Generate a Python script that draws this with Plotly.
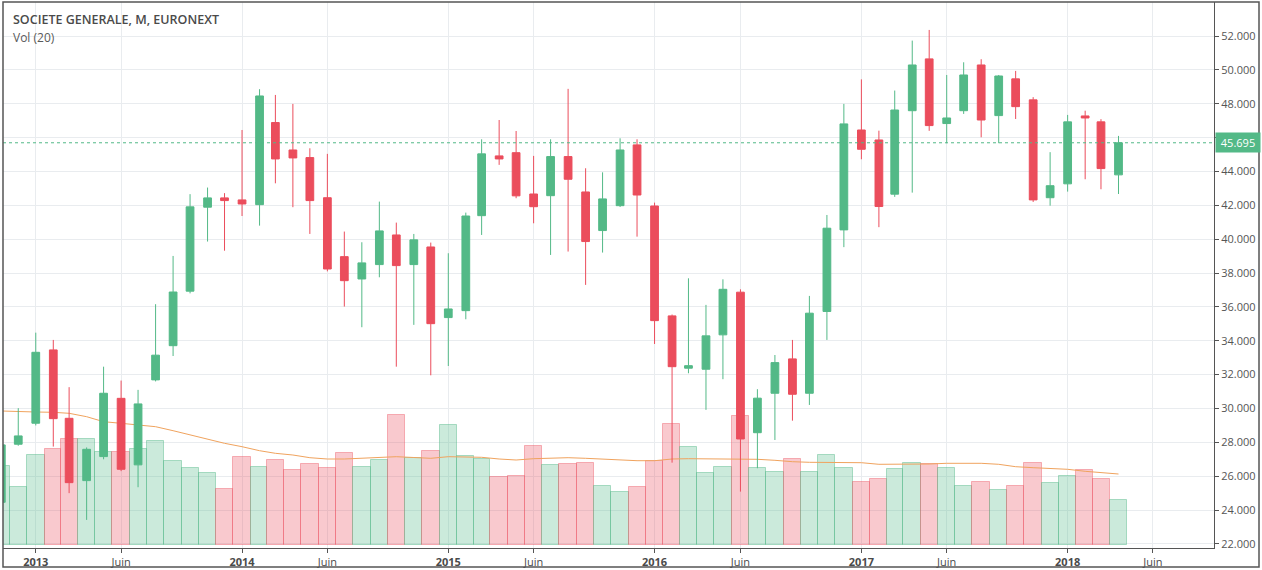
import pandas as pd
import plotly.graph_objects as go

# ---------------- data ----------------
months = pd.date_range("2012-11-01", periods=66, freq="MS")

opens = [24.46, 27.89, 29.13, 33.46, 29.42, 25.74, 27.16, 30.60, 26.67, 31.69, 33.71, 36.93,
         41.89, 42.44, 42.32, 42.04, 46.89, 45.27, 44.82, 42.45, 38.97, 37.65, 38.50, 40.25,
         38.50, 39.54, 35.37, 35.78, 41.39, 44.92, 45.11, 42.67, 42.57, 44.88, 42.79, 40.51,
         41.98, 45.57, 41.96, 35.47, 32.38, 32.32, 34.35, 36.87, 28.57, 30.90, 32.93, 30.90,
         35.73, 40.55, 46.45, 45.86, 42.66, 47.59, 50.65, 46.83, 47.59, 50.29, 47.30, 49.47,
         48.23, 42.45, 43.27, 47.28, 46.93, 43.80]
highs = [28.20, 30.02, 34.48, 34.05, 31.26, 27.70, 32.47, 31.65, 31.10, 36.16, 39.01, 42.66,
         43.05, 42.72, 46.45, 48.86, 48.52, 47.99, 45.37, 45.04, 40.45, 39.82, 42.22, 40.98,
         40.31, 39.80, 39.17, 41.57, 45.90, 47.04, 46.39, 44.92, 45.90, 48.88, 44.19, 43.95,
         45.96, 45.90, 42.16, 35.55, 37.69, 36.12, 37.63, 37.04, 31.14, 33.16, 34.05, 36.65,
         41.43, 47.99, 49.44, 46.41, 48.78, 51.73, 52.36, 49.70, 50.45, 50.63, 49.70, 49.94,
         48.39, 45.14, 47.34, 47.59, 47.09, 46.10]
lows = [24.20, 27.80, 29.00, 27.75, 25.00, 23.42, 27.00, 26.30, 25.35, 31.60, 33.10, 36.80,
        39.86, 39.32, 41.37, 40.80, 43.30, 41.89, 40.31, 38.10, 36.02, 34.80, 37.75, 32.47,
        34.94, 31.96, 32.51, 35.27, 40.25, 44.39, 42.42, 40.94, 39.07, 39.27, 37.30, 39.21,
        41.90, 40.15, 33.81, 26.80, 32.08, 29.92, 31.73, 25.09, 26.47, 28.14, 29.28, 30.21,
        34.05, 39.53, 44.72, 40.71, 42.50, 42.75, 46.40, 45.67, 47.40, 46.02, 45.67, 47.10,
        42.20, 41.98, 42.81, 43.54, 42.95, 42.67]
closes = [27.85, 28.38, 33.32, 29.40, 25.62, 27.59, 30.90, 26.41, 30.27, 33.15, 36.88, 41.91,
          42.44, 42.28, 42.08, 48.46, 44.74, 44.80, 42.28, 38.24, 37.55, 38.60, 40.49, 38.44,
          39.96, 35.01, 35.88, 41.37, 45.04, 44.74, 42.56, 41.92, 44.88, 43.54, 39.86, 42.38,
          45.27, 42.61, 35.19, 32.47, 32.53, 34.29, 37.04, 28.20, 30.61, 32.71, 30.84, 35.63,
          40.65, 46.81, 45.31, 41.93, 47.63, 50.29, 46.71, 47.16, 49.70, 47.04, 49.64, 47.83,
          42.32, 43.16, 46.93, 47.16, 44.17, 45.695]

# monthly volume (millions of shares, estimated)
volume = [79.0, 57.7, 90.0, 96.0, 105.7, 105.7, 93.0, 93.0, 96.0, 104.0, 84.0, 76.7,
          72.0, 55.7, 87.7, 78.0, 84.7, 75.0, 80.7, 76.7, 92.0, 78.0, 85.0, 130.0,
          87.0, 94.0, 120.0, 89.3, 86.5, 68.0, 69.0, 99.0, 80.0, 81.0, 81.7, 59.0,
          52.7, 58.0, 84.0, 120.7, 97.7, 71.7, 78.0, 129.0, 76.7, 72.7, 85.8, 72.8,
          89.7, 76.7, 62.7, 65.7, 75.7, 82.5, 81.0, 76.7, 59.0, 63.3, 55.0, 59.0,
          81.7, 61.7, 69.0, 74.7, 65.7, 44.7]

# 20-period moving average of volume (as plotted)
vol_ma20 = [134.0, 133.3, 133.0, 132.7, 131.7, 128.3, 123.3, 121.7, 120.0, 118.3, 114.3, 110.0,
            106.0, 101.7, 98.3, 94.3, 91.7, 90.0, 87.3, 86.0, 86.0, 86.7, 87.3, 88.3,
            87.5, 86.7, 88.3, 88.3, 87.7, 86.0, 85.0, 86.3, 87.0, 87.3, 86.7, 86.0,
            84.7, 84.3, 84.3, 86.0, 86.3, 86.3, 86.0, 85.7, 85.7, 84.7, 83.3, 82.7,
            82.7, 82.5, 82.3, 80.7, 80.7, 81.0, 81.0, 81.7, 81.7, 81.7, 80.7, 78.3,
            77.3, 76.7, 75.7, 73.7, 72.3, 71.0]

last_price = 45.695
price_ticks = [22, 24, 26, 28, 30, 32, 34, 36, 38, 40, 42, 44, 46, 48, 50, 52]
# the 46.000 label sits under the last-price tag, so it is left blank
price_ticktext = ["22.000", "24.000", "26.000", "28.000", "30.000", "32.000", "34.000", "36.000",
                  "38.000", "40.000", "42.000", "44.000", "", "48.000", "50.000", "52.000"]
time_tickvals = ["2013-01-01", "2013-06-01", "2014-01-01", "2014-06-01", "2015-01-01", "2015-06-01",
                 "2016-01-01", "2016-06-01", "2017-01-01", "2017-06-01", "2018-01-01", "2018-06-01"]
time_ticktext = ["<b>2013</b>", "Juin", "<b>2014</b>", "Juin", "<b>2015</b>", "Juin",
                 "<b>2016</b>", "Juin", "<b>2017</b>", "Juin", "<b>2018</b>", "Juin"]
title_text = "SOCIETE GENERALE, M, EURONEXT"
vol_label = "Vol (20)"

# ---------------- styling ----------------
GREEN = "#53b987"
RED = "#eb4d5c"
GRID = "#e9ecef"
AXIS = "#555555"

# bar widths spanning each month, centred on the month start
centers = months.values.astype("datetime64[ms]").astype("int64")
edges = [centers[0] - (centers[1] - centers[0]) / 2]
for i in range(1, len(centers)):
    edges.append((centers[i - 1] + centers[i]) / 2)
edges.append(centers[-1] + (centers[-1] - centers[-2]) / 2)
widths = [edges[i + 1] - edges[i] for i in range(len(centers))]
offsets = [edges[i] - centers[i] for i in range(len(centers))]

up = [c >= o for o, c in zip(opens, closes)]
bar_fill = ["rgba(83,185,135,0.30)" if u else "rgba(235,77,92,0.30)" for u in up]
bar_line = ["rgba(83,185,135,0.45)" if u else "rgba(235,77,92,0.40)" for u in up]

fig = go.Figure()

fig.add_trace(go.Bar(
    x=months, y=volume, width=widths, offset=offsets,
    marker=dict(color=bar_fill, line=dict(color=bar_line, width=1)),
    xaxis="x", yaxis="y", showlegend=False, hoverinfo="skip",
))
fig.add_trace(go.Scatter(
    x=months, y=vol_ma20, mode="lines",
    line=dict(color="#f0a35e", width=1),
    xaxis="x", yaxis="y", showlegend=False, hoverinfo="skip",
))
fig.add_trace(go.Candlestick(
    x=months, open=opens, high=highs, low=lows, close=closes,
    increasing=dict(fillcolor=GREEN, line=dict(color=GREEN, width=1)),
    decreasing=dict(fillcolor=RED, line=dict(color=RED, width=1)),
    whiskerwidth=0,
    xaxis="x", yaxis="y2", showlegend=False,
))

L, R, T, B = 3, 48, 2, 22
W, H = 1262, 570
pw, ph = W - L - R, H - T - B

fig.update_layout(
    width=W, height=H,
    margin=dict(l=L, r=R, t=T, b=B, pad=0),
    paper_bgcolor="white", plot_bgcolor="white",
    showlegend=False,
    bargap=0,
    xaxis=dict(
        type="date", range=["2012-11-04", "2018-09-17"],
        tickvals=time_tickvals, ticktext=time_ticktext,
        showgrid=True, gridcolor=GRID, gridwidth=1,
        ticks="outside", ticklen=4, tickcolor=AXIS,
        showline=True, linecolor=AXIS, linewidth=1,
        tickfont=dict(family="Open Sans, sans-serif", size=11, color="#4a4a4a"),
        rangeslider=dict(visible=False), zeroline=False,
    ),
    yaxis=dict(range=[-3, 543], visible=False, showgrid=False, zeroline=False, fixedrange=True),
    yaxis2=dict(
        overlaying="y", side="right", range=[21.76, 54.01],
        tickvals=price_ticks, ticktext=price_ticktext,
        showgrid=True, gridcolor=GRID, gridwidth=1,
        ticks="outside", ticklen=4, tickcolor=AXIS,
        showline=True, linecolor=AXIS, linewidth=1,
        tickfont=dict(family="Open Sans, sans-serif", size=11, color="#555555"),
        zeroline=False,
    ),
)

# last price dotted line
fig.add_shape(type="line", xref="paper", x0=0, x1=1, yref="y2", y0=last_price, y1=last_price,
              line=dict(color=GREEN, width=1, dash="dot"), layer="above")

# outer frame
fig.add_shape(type="rect", xref="paper", yref="paper",
              x0=0, x1=(1259 - L) / pw, y0=-(567 - (H - B)) / ph, y1=1,
              line=dict(color="#555555", width=1.5), fillcolor="rgba(0,0,0,0)", layer="above")

fig.add_annotation(xref="paper", yref="y2", x=1 + 1 / pw, y=last_price, xanchor="left", yanchor="middle",
                   text=f"{last_price:.3f}", showarrow=False, bgcolor=GREEN, borderpad=2, width=40,
                   font=dict(family="Open Sans, sans-serif", size=11, color="white"))

fig.add_annotation(xref="paper", yref="paper", x=(11 - L) / pw, y=1 - (19.5 - T) / ph,
                   xanchor="left", yanchor="middle", text=title_text, showarrow=False,
                   font=dict(family="Open Sans, sans-serif", size=12.5, color="#4a4a4a", weight=600))
fig.add_annotation(xref="paper", yref="paper", x=(11 - L) / pw, y=1 - (37 - T) / ph,
                   xanchor="left", yanchor="middle", text=vol_label, showarrow=False,
                   font=dict(family="Open Sans, sans-serif", size=12, color="#5a5a5a"))

fig.write_html("out.html")
